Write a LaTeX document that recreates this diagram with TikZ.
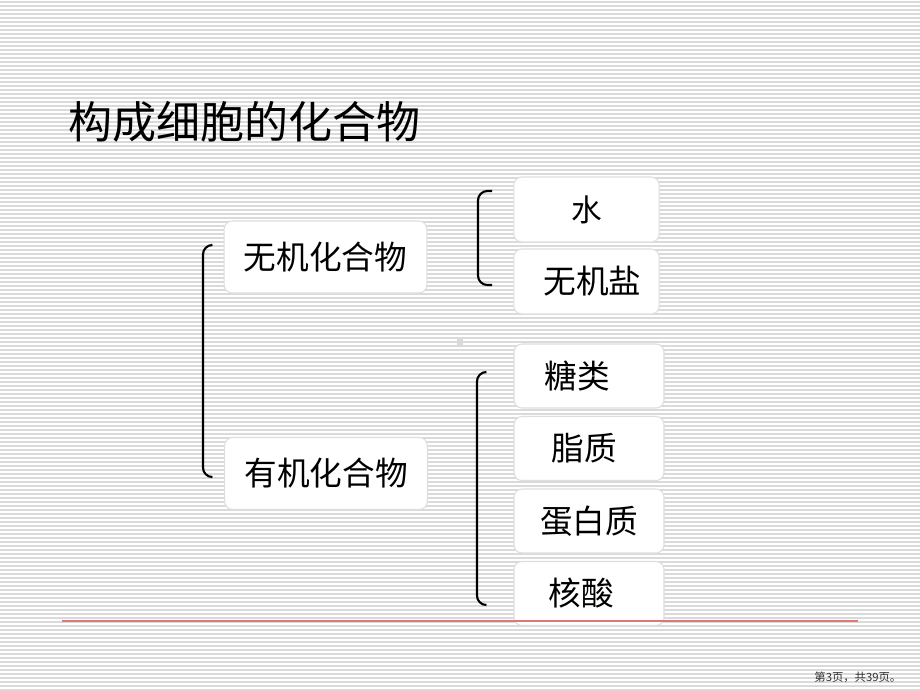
\documentclass[tikz,border=0pt]{standalone}
\usepackage{fontspec}
\setmainfont{Noto Sans CJK SC}
\usepackage{tikz}
\definecolor{hongxian}{RGB}{220,120,120}
\definecolor{kuangxian}{RGB}{222,222,222}
\definecolor{beijing}{RGB}{218,218,218}

\begin{document}
\begin{tikzpicture}[x=0.75pt, y=-0.75pt,
    kuang/.style={draw=kuangxian, fill=white, line width=0.8pt, rounded corners=6pt,
      inner sep=0pt, font=\fontsize{24.5}{28}\selectfont},
    daxiang/.style={kuang, minimum width=152pt, minimum height=54pt},
    xiaoxiang/.style={kuang, minimum width=109pt, minimum height=48.75pt},
    kuoxiang/.style={kuang, minimum width=112.5pt, minimum height=48pt},
    kuohao/.style={line width=1.6pt, rounded corners=7pt}]
      \useasboundingbox (0,0) rectangle (920,690);
      \fill[white] (0,0) rectangle (920,690);
      \foreach \y in {2,6,...,690}
        \draw[beijing, line width=0.8pt] (0,\y) -- (920,\y);
      \fill[beijing] (457,339) rectangle (463,345);
      \node[anchor=west, font=\fontsize{33}{38}\selectfont] (biaoti) at (64,122) {构成细胞的化合物};
      \node[daxiang] (wuji) at (325.5,257) {无机化合物};
      \node[daxiang] (youji) at (326,473.5) {有机化合物};
      \node[xiaoxiang, font=\fontsize{23}{26}\selectfont] (shui) at (586.5,209.5) {水};
      \node[xiaoxiang] (wujiyan) at (586.5,281.5) {\hspace*{9pt}\raisebox{-4pt}{无机盐}};
      \node[kuoxiang] (tanglei) at (589,376) {\hspace*{-18pt}糖类};
      \node[kuoxiang] (zhizhi) at (589,448.5) {\hspace*{-7pt}脂质};
      \node[kuoxiang] (danbaizhi) at (589,521) {蛋白质};
      \node[kuoxiang] (hesuan) at (589,593.5) {\hspace*{-12pt}核酸};
      \draw[kuohao] (211,245) -- (203,245) -- (203,477) -- (211,477);
      \draw[kuohao] (492,191) -- (478,191) -- (478,285) -- (492,285);
      \draw[kuohao] (486,372) -- (477,372) -- (477,605) -- (486,605);
      \draw[hongxian, line width=1.6pt] (62,621) -- (858,621);
      \node[anchor=east, font=\fontsize{8.5}{10}\selectfont, text=black!80] (yema) at (906,677) {第3页，共39页。};
%      \draw[red] (0,0) rectangle (920,690);
    \end{tikzpicture}
\end{document}
